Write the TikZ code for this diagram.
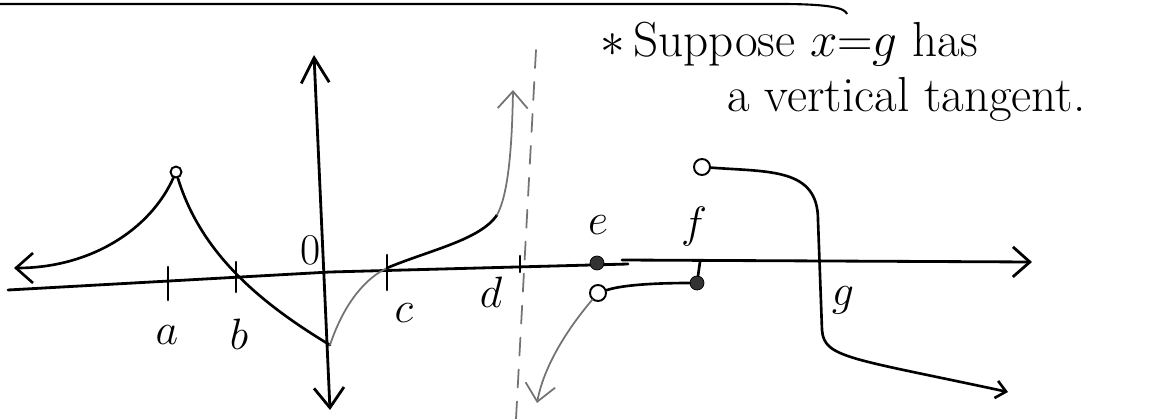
\documentclass[tikz,border=0pt]{standalone}
\usepackage{fix-cm}
\usepackage{tikz}
\usetikzlibrary{arrows.meta}

\begin{document}
\begin{tikzpicture}[
  x=0.2mm, y=-0.2mm,
  ax/.style={line width=1.6pt, line cap=round},
  crv/.style={line width=1.5pt, line cap=round},
  faint/.style={line width=1pt, black!55, line cap=round},
  tip/.style={-{Straight Barb[length=3.4mm, width=6mm]}},
  tipsm/.style={-{Straight Barb[length=2mm, width=3.5mm]}},
  hole/.style={circle, draw, line width=1.1pt, fill=white, inner sep=0pt, minimum size=3.2mm},
  fdot/.style={circle, draw, fill=black!80, inner sep=0pt, minimum size=2.8mm},
  lbl/.style={font=\fontsize{25}{29}\selectfont, inner sep=0pt},
  note/.style={font=\fontsize{28}{34}\selectfont, inner sep=0pt, anchor=base west}
]
\useasboundingbox (0,0) rectangle (1176,419);

% rule across the top
\draw[line width=1.2pt] (0,4) -- (780,4) .. controls (830,4) and (845,8) .. (847,14);

% axes
\coordinate (xl) at (8,290);
\coordinate (xm) at (330,272);
\coordinate (xe) at (628,264);
\coordinate (xs) at (622,260);
\coordinate (xr) at (1032,262);
\coordinate (yb) at (330,410);
\coordinate (yt) at (314,55);
\draw[ax] (xl) -- (xm) -- (xe);
\draw[ax, tip] (xs) -- (xr);
\draw[ax, {Straight Barb[length=4mm, width=6mm]}-{Straight Barb[length=5mm, width=5.6mm]}] (yb) -- (yt);

% ticks
\foreach \x/\t/\b in {168/267/300, 236/262/292, 387/255/290}
  \draw[crv] (\x,\t) -- (\x,\b);
\draw[crv] (520,256) -- (520,272);

% vertical asymptote at d
\draw[faint, dash pattern=on 3.6mm off 2.8mm] (536,50) -- (516,419);

% points
\node[hole, minimum size=2.2mm] (cusp) at (176,172) {};
\coordinate (vbot) at (330,345);
\node[hole] (hf) at (598,293) {};
\node[fdot] (de) at (597,263) {};
\node[fdot] (df) at (697,283) {};
\node[hole] (ht) at (702,167) {};

% graph
\draw[crv, tip] (cusp) .. controls (150,230) and (90,268) .. (14,268);
\draw[crv] (cusp) .. controls (200,250) and (255,300) .. (vbot);
\draw[faint] (vbot) .. controls (345,300) and (368,277) .. (387,268);
\draw[crv] (387,268) .. controls (430,250) and (480,240) .. (497,215);
\draw[faint, tip] (497,215) .. controls (508,195) and (512,150) .. (513,90);
\draw[faint, tip] (hf) .. controls (575,320) and (545,360) .. (537,403);
\draw[crv] (hf) .. controls (625,284) and (665,283) .. (df);
\draw[crv] (700,262) -- (df);
\draw[crv, tipsm] (ht) .. controls (770,172) and (818,168) .. (818,220) -- (822,330)
  .. controls (824,358) and (850,358) .. (1008,392);

% labels
\node[lbl] (la) at (167,335) {$a$};
\node[lbl] (lb) at (239,334) {$b$};
\node[lbl] (lc) at (404,313) {$c$};
\node[lbl] (ld) at (491,292) {$d$};
\node[lbl] (lo) at (311,250) {0};
\node[lbl] (le) at (598,225) {$e$};
\node[lbl] (lf) at (694,227) {$f$};
\node[lbl] (lg) at (843,300) {$g$};

% note
\node[note] (n1) at (600,56) {$\ast$\,Suppose $x{=}g$ has};
\node[note] (n2) at (727,111) {a vertical tangent.};
\end{tikzpicture}
\end{document}
